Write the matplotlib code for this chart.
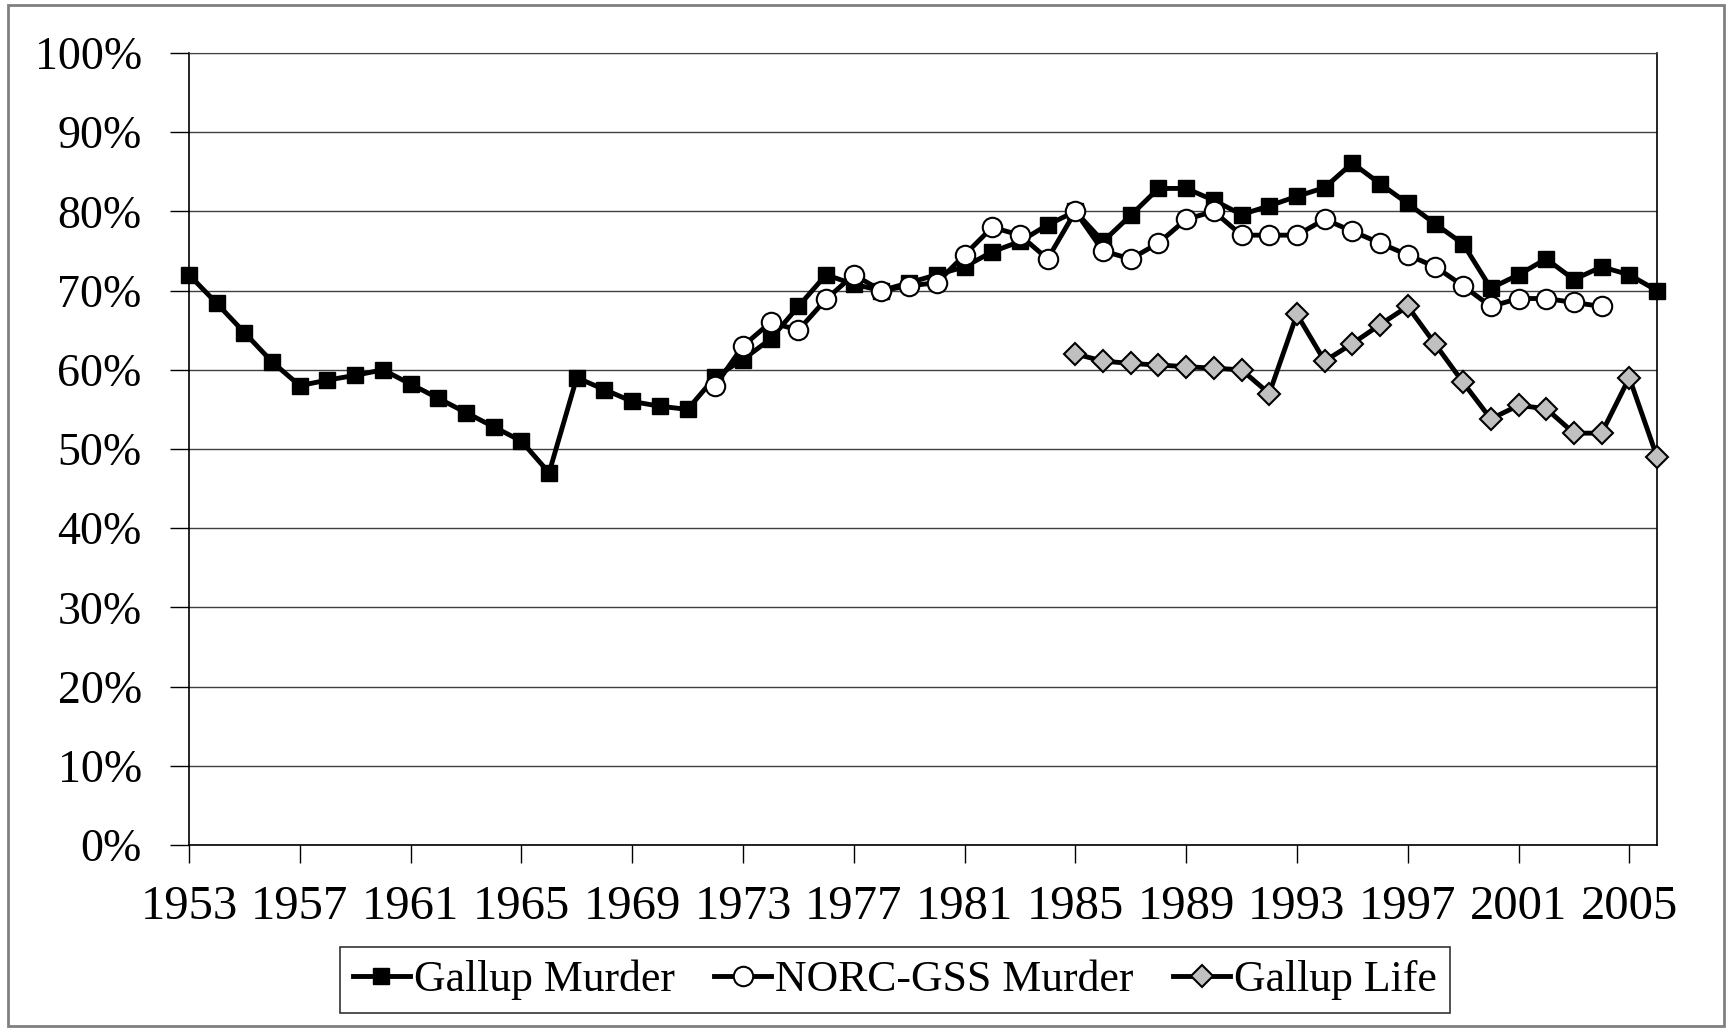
import matplotlib.pyplot as plt
import matplotlib.patches as patches
import numpy as np

plt.rcParams['font.family'] = ['Liberation Serif', 'DejaVu Serif']

# Gallup Murder 1953-2006
gallup_years = list(range(1953, 2007))
gallup_murder = [72, 68.4, 64.7, 61, 58, 58.7, 59.3, 60, 58.2, 56.4, 54.6, 52.8, 51, 47,
                 59, 57.5, 56, 55.4, 55, 59.1, 61.3, 63.9, 68, 72, 70.8, 70, 71, 72,
                 73, 74.9, 76.2, 78.3, 80, 76.2, 79.5, 82.9, 82.9, 81.4, 79.6, 80.7,
                 81.9, 83, 86.1, 83.5, 81, 78.4, 75.9, 70.3, 72, 74, 71.4, 73, 72, 70]

# NORC-GSS Murder 1972-2004
norc_years = list(range(1972, 2005))
norc_murder = [58, 63, 66, 65, 68.9, 72, 70, 70.6, 71, 74.5, 78, 77, 74, 80, 75, 74,
               76, 79, 80, 77, 77, 77, 79, 77.5, 76, 74.5, 73, 70.6, 68, 69, 69, 68.5, 68]

# Gallup Life 1985-2006
life_years = list(range(1985, 2007))
gallup_life = [62, 61.1, 60.8, 60.6, 60.4, 60.2, 60, 57, 67, 61.1, 63.3, 65.7, 68,
               63.2, 58.4, 53.8, 55.5, 55.1, 52, 52, 59, 49]

yticks = np.arange(0, 101, 10)
xticks = list(range(1953, 2006, 4))

fig = plt.figure(figsize=(17.28, 10.29), dpi=100)
ax = fig.add_axes([189 / 1728, 1 - 845 / 1029, (1657 - 189) / 1728, (845 - 53) / 1029])

# outer frame
fig.patches.append(patches.Rectangle((8 / 1728, 3 / 1029), 1716 / 1728, 1021 / 1029,
                                     transform=fig.transFigure, fill=False,
                                     edgecolor='#808080', lw=2))

ax.plot(gallup_years, gallup_murder, color='black', lw=3.5, marker='s', ms=11.5,
        mfc='black', mec='black', label='Gallup Murder', zorder=3, clip_on=False)
ax.plot(norc_years, norc_murder, color='black', lw=3.5, marker='o', ms=14,
        mfc='white', mec='black', mew=1.5, label='NORC-GSS Murder', zorder=4,
        clip_on=False)
ax.plot(life_years, gallup_life, color='black', lw=3.5, marker='D', ms=11.5,
        mfc='#c0c0c0', mec='black', mew=1.5, label='Gallup Life', zorder=3,
        clip_on=False)

ax.set_xlim(1953, 2006)
ax.set_ylim(0, 100)
ax.set_yticks(yticks)
ax.set_yticklabels(['%d%%' % v for v in yticks])
ax.set_xticks(xticks)
ax.set_xticklabels([str(v) for v in xticks])
ax.tick_params(axis='y', labelsize=33, length=14, width=1, pad=20, direction='out')
ax.tick_params(axis='x', labelsize=35, length=13, width=1, pad=16, direction='out')
ax.grid(axis='y', color='#404040', lw=1)
ax.set_axisbelow(True)
for s in ['left', 'bottom', 'right']:
    ax.spines[s].set_color('black')
    ax.spines[s].set_linewidth(1.2)
ax.spines['top'].set_color('#404040')

leg = fig.legend(loc='center', bbox_to_anchor=(895 / 1728, 1 - 980 / 1029), ncol=3,
                 fontsize=31.5, frameon=True, fancybox=False, edgecolor='black',
                 handlelength=1.3, handletextpad=0.1, columnspacing=0.9,
                 borderpad=0.3, borderaxespad=0)
leg.get_frame().set_linewidth(1.2)

fig.savefig('out.png', dpi=100)
